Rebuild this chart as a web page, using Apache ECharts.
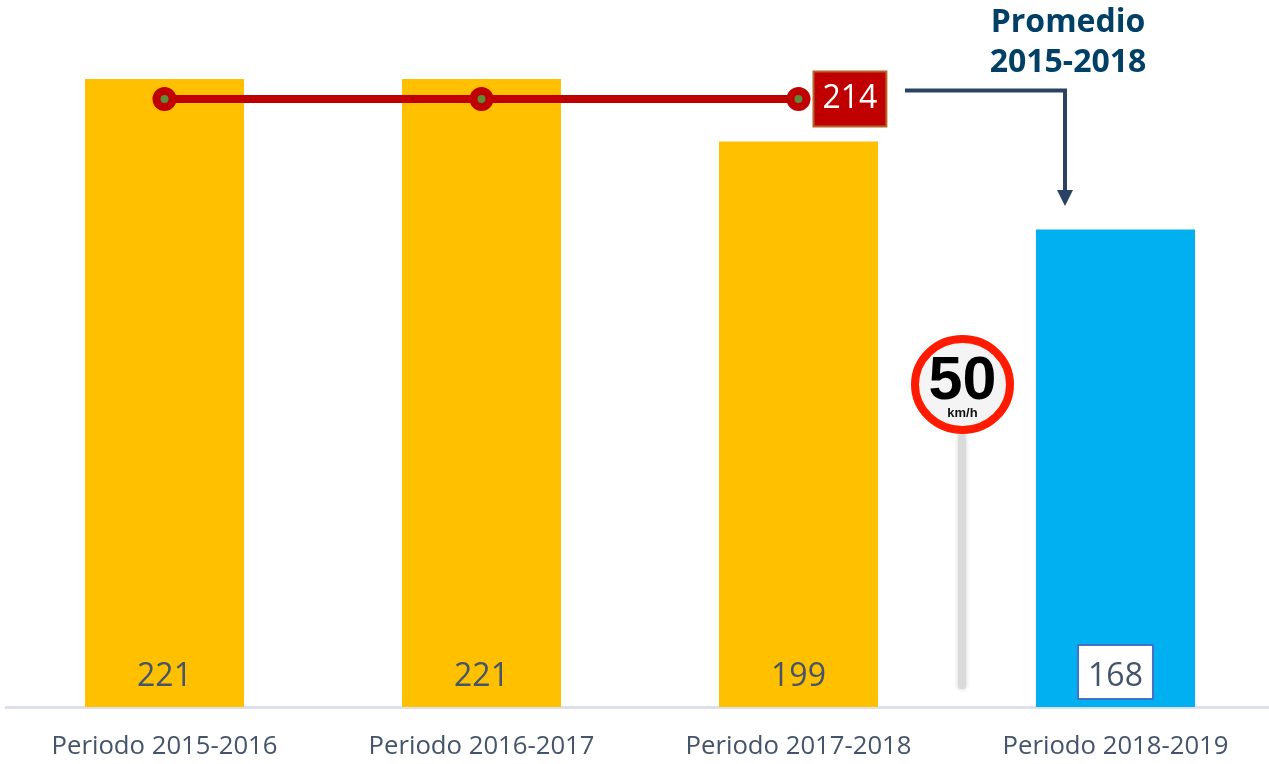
<!DOCTYPE html>
<html>
<head>
<meta charset="utf-8">
<title>Promedio 2015-2018</title>
<style>
  html, body { margin: 0; padding: 0; background: #fff; overflow: hidden; }
  #chart { width: 1269px; height: 764px; }
</style>
</head>
<body>
<div id="chart"></div>
<script src="https://cdn.jsdelivr.net/npm/echarts@6/dist/echarts.min.js"></script>
<script>
var periods = ['Periodo 2015-2016', 'Periodo 2016-2017', 'Periodo 2017-2018', 'Periodo 2018-2019'];
var barValues = [221, 221, 199, 168];
var averageValues = [214, 214, 214, null];
var barColors = ['#FFC000', '#FFC000', '#FFC000', '#00B0F0'];

var textColor = '#44546A';
var labelFont = '"Open Sans", sans-serif';

var myChart = echarts.init(document.getElementById('chart'), null, { renderer: 'canvas' });

var barData = [];
for (var i = 0; i < barValues.length; i++) {
    var item = { value: barValues[i], itemStyle: { color: barColors[i] } };
    // el ultimo periodo lleva la etiqueta en caja blanca
    if (i === barValues.length - 1) {
        item.label = {
            backgroundColor: '#fff',
            borderColor: '#4472C4',
            borderWidth: 2,
            padding: [15, 9, 5, 9],
            distance: 9
        };
    }
    barData.push(item);
}

// solo el ultimo punto de la linea muestra el valor
var lineData = [];
for (var j = 0; j < averageValues.length; j++) {
    var point = { value: averageValues[j] };
    if (j === 2) {
        point.label = {
            show: true,
            position: 'right',
            distance: 4,
            color: '#fff',
            fontFamily: labelFont,
            fontSize: 32,
            backgroundColor: '#C00000',
            borderColor: '#B5652A',
            borderWidth: 2,
            padding: [12, 8, 9, 8]
        };
    }
    lineData.push(point);
}

var option = {
    animation: false,
    backgroundColor: '#fff',
    grid: { left: 6, width: 1268, top: 79, height: 628, outerBoundsMode: 'none' },
    xAxis: {
        type: 'category',
        data: periods,
        axisTick: { show: false },
        axisLine: { lineStyle: { color: '#DDE0EA', width: 3 } },
        axisLabel: {
            color: textColor,
            fontFamily: labelFont,
            fontSize: 25.7,
            margin: 27
        }
    },
    yAxis: { type: 'value', min: 0, max: 221, show: false },
    series: [
        {
            type: 'bar',
            data: barData,
            barWidth: 159,
            label: {
                show: true,
                position: 'insideBottom',
                distance: 14,
                color: textColor,
                fontFamily: labelFont,
                fontSize: 32
            }
        },
        {
            type: 'line',
            data: lineData,
            symbol: 'circle',
            symbolSize: 16,
            lineStyle: { color: '#C00000', width: 8 },
            itemStyle: { color: '#5E8A3A', borderColor: '#C00000', borderWidth: 8 },
            z: 5
        }
    ],
    graphic: [
        {
            type: 'text',
            style: {
                x: 1068, y: 3,
                text: 'Promedio\n2015-2018',
                align: 'center',
                fill: '#003F66',
                font: 'bold 32px "Open Sans", sans-serif',
                lineHeight: 40
            }
        },
        // flecha del promedio
        {
            type: 'polyline',
            shape: { points: [[905, 90.5], [1065, 90.5], [1065, 192]] },
            style: { stroke: '#2A4365', lineWidth: 4, fill: null }
        },
        {
            type: 'polygon',
            shape: { points: [[1057, 190], [1073, 190], [1065, 206]] },
            style: { fill: '#2A4365' }
        },
        // senal de 50 km/h
        {
            type: 'rect',
            shape: { x: 958, y: 434, width: 8, height: 255, r: 3 },
            style: { fill: '#DADADA', shadowBlur: 4, shadowColor: '#D0D0D0' }
        },
        {
            type: 'ellipse',
            shape: { cx: 962.5, cy: 384.5, rx: 47.5, ry: 45.5 },
            style: { fill: '#F4F4F4', stroke: '#FF1A00', lineWidth: 8 }
        },
        {
            type: 'text',
            style: {
                x: 962.5, y: 352,
                text: '50',
                align: 'center',
                fill: '#000',
                font: 'bold 61px "Liberation Sans", sans-serif'
            }
        },
        {
            type: 'text',
            style: {
                x: 962.5, y: 407,
                text: 'km/h',
                align: 'center',
                fill: '#111',
                font: 'bold 13px "Liberation Sans", sans-serif'
            }
        }
    ]
};

myChart.setOption(option);
window.onresize = myChart.resize;
</script>
</body>
</html>
